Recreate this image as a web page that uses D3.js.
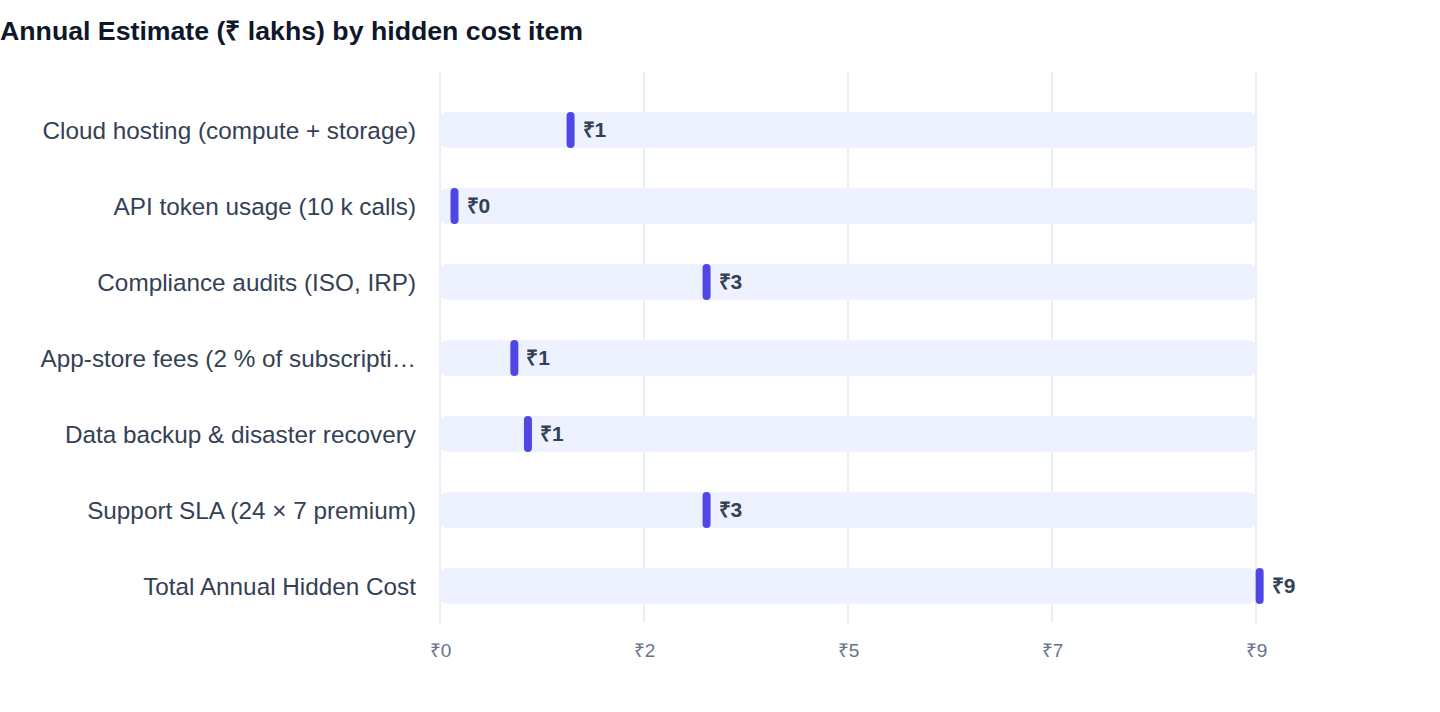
<!DOCTYPE html>
<html>
<head>
<meta charset="utf-8">
<script src="https://cdn.jsdelivr.net/npm/d3@7"></script>
<style>
  body { margin: 0; background: #fff; font-family: "Liberation Sans", Arial, Helvetica, sans-serif; }
  .title { font-weight: bold; font-size: 26.7px; fill: #0f172a; }
  .ylab { font-size: 24.3px; fill: #334155; }
  .tick-lab { font-size: 19px; fill: #64748b; }
  .val { font-size: 21px; font-weight: bold; fill: #334155; }
</style>
</head>
<body>
<div id="chart"></div>
<script>
// cost items and their annual estimate (₹ lakhs)
var items = [
  "Cloud hosting (compute + storage)",
  "API token usage (10 k calls)",
  "Compliance audits (ISO, IRP)",
  "App-store fees (2 % of subscription)",
  "Data backup & disaster recovery",
  "Support SLA (24 × 7 premium)",
  "Total Annual Hidden Cost"
];
var estimates = [1.44, 0.16, 2.94, 0.82, 0.97, 2.94, 9.04];
var trackMax = 9;
var tickValues = [0, 2.25, 4.5, 6.75, 9];

var W = 1440, H = 712;
var margin = {top: 92, right: 184, bottom: 88, left: 440};
var width = W - margin.left - margin.right,
    height = H - margin.top - margin.bottom;

var svg = d3.select("#chart").append("svg")
    .attr("width", W)
    .attr("height", H);

svg.append("text")
    .attr("class", "title")
    .attr("x", 0)
    .attr("y", 40)
    .text("Annual Estimate (₹ lakhs) by hidden cost item");

var x = d3.scaleLinear().domain([0, trackMax]).range([0, width]);
var y = d3.scaleBand().domain(items).range([0, height]).paddingInner(0.526).paddingOuter(0.263);

var g = svg.append("g")
    .attr("transform", "translate(" + margin.left + "," + margin.top + ")");

// grid
g.selectAll(".grid")
  .data(tickValues)
  .enter().append("line")
    .attr("x1", function(d) { return x(d); })
    .attr("x2", function(d) { return x(d); })
    .attr("y1", -20)
    .attr("y2", height - 1)
    .attr("stroke", "#e2e8f0")
    .attr("stroke-width", 1.5);

// x axis labels
var xAxis = g.append("g")
    .attr("transform", "translate(0," + height + ")")
    .call(d3.axisBottom(x).tickValues(tickValues).tickSize(0).tickPadding(20)
      .tickFormat(function(d) { return "₹" + Math.round(d); }));
xAxis.select(".domain").remove();
xAxis.attr("font-family", null).attr("font-size", null);
xAxis.selectAll("text").attr("class", "tick-lab").attr("fill", null);

// y labels
function trunc(s) { return s.length > 34 ? s.slice(0, 33) + "…" : s; }
var yAxis = g.append("g")
    .call(d3.axisLeft(y).tickSize(0).tickPadding(24).tickFormat(trunc));
yAxis.select(".domain").remove();
yAxis.attr("font-family", null).attr("font-size", null);
yAxis.selectAll("text").attr("class", "ylab").attr("fill", null).attr("dy", "0.35em");

// tracks
g.selectAll(".track")
  .data(items)
  .enter().append("rect")
    .attr("class", "track")
    .attr("x", x(0))
    .attr("y", function(d) { return y(d); })
    .attr("width", x(trackMax) - x(0))
    .attr("height", y.bandwidth())
    .attr("rx", 8)
    .attr("fill", "#eef2ff");

var rows = items.map(function(d, i) { return {name: d, v: estimates[i]}; });

// markers
g.selectAll(".marker")
  .data(rows)
  .enter().append("rect")
    .attr("class", "marker")
    .attr("x", function(d) { return x(d.v) - 4; })
    .attr("y", function(d) { return y(d.name); })
    .attr("width", 8)
    .attr("height", y.bandwidth())
    .attr("rx", 4)
    .attr("fill", "#4f46e5");

g.selectAll(".val")
  .data(rows)
  .enter().append("text")
    .attr("class", "val")
    .attr("x", function(d) { return x(d.v) + 12; })
    .attr("y", function(d) { return y(d.name) + y.bandwidth() / 2; })
    .attr("dy", "0.35em")
    .text(function(d) { return "₹" + Math.round(d.v); });
</script>
</body>
</html>
